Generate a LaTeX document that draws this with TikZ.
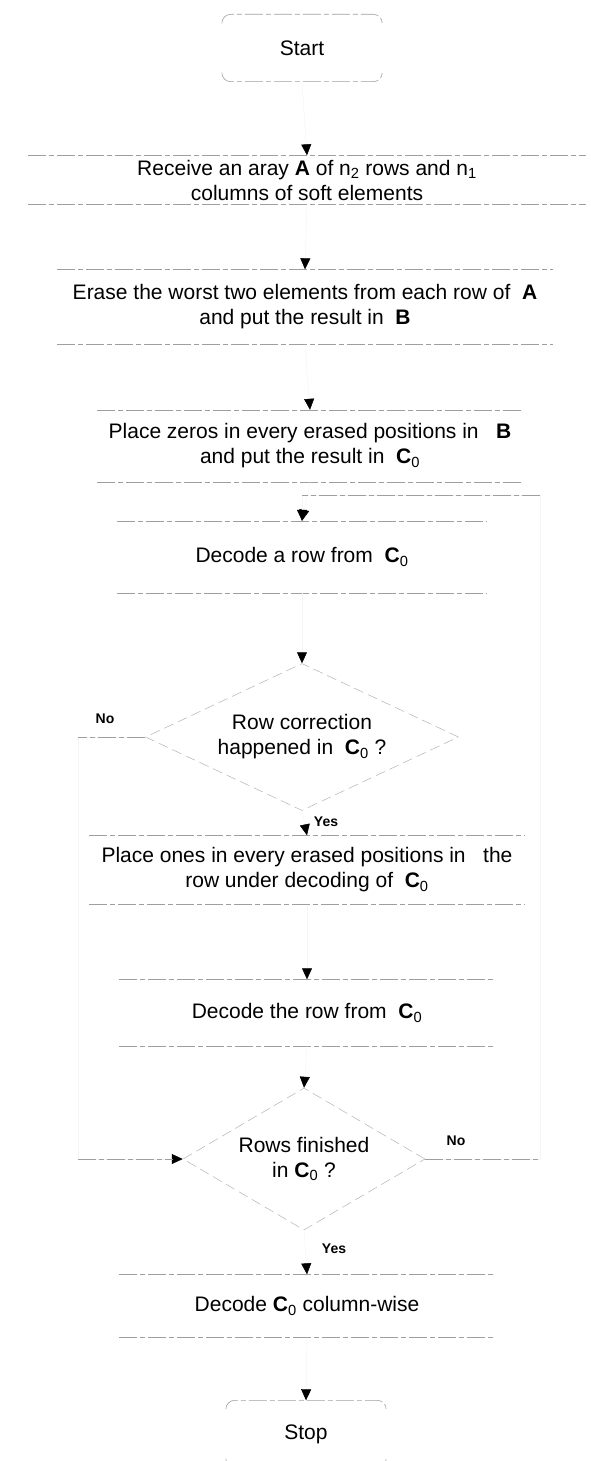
\documentclass[tikz,border=0pt]{standalone}
\usepackage{fontspec}
\setmainfont{Liberation Sans}
\usetikzlibrary{shapes.geometric,arrows.meta}

\newcommand{\Czero}{\textbf{C}\textsubscript{0}}

\begin{document}
\begin{tikzpicture}[x=1pt,y=-1pt,
  every node/.style={font=\fontsize{21}{25}\selectfont},
  edge/.style={gray!75, line width=0.6pt, dash pattern=on 18pt off 3pt on 5pt off 3pt},
  link/.style={gray!8, line width=0.5pt, -{Triangle[color=black,width=10pt,length=11pt]}},
  stepbox/.style={inner sep=0pt, align=center},
  term/.style={inner sep=0pt, minimum width=160, minimum height=67},
  decision/.style={diamond, draw=gray!60, line width=0.5pt, dash pattern=on 10pt off 5pt, inner sep=0pt, align=center},
  lbl/.style={font=\bfseries\fontsize{14}{16}\selectfont}]
  \useasboundingbox (0,0) rectangle (590,1461);

  % blocks
  \node[term] (start) at (302,48) {Start};
  \node[stepbox, minimum width=557, minimum height=49] (recv) at (307,180)
    {Receive an aray \textbf{A} of n\textsubscript{2} rows and n\textsubscript{1}\\columns of soft elements};
  \node[stepbox, minimum width=495, minimum height=75] (erase) at (305,307)
    {Erase the worst two elements from each row of ~\textbf{A}\\and put the result in ~\textbf{B}};
  \node[stepbox, minimum width=425, minimum height=72] (zeros) at (310,446)
    {Place zeros in every erased positions in ~~\textbf{B}\\and put the result in ~\Czero};
  \node[stepbox, minimum width=370, minimum height=72] (dec1) at (302,557)
    {Decode a row from ~\Czero};
  \node[decision, aspect=2.13, minimum width=313, minimum height=147] (corr) at (302,737)
    {Row correction\\happened in ~\Czero~?};
  \node[stepbox, minimum width=435, minimum height=69] (ones) at (307,870)
    {Place ones in every erased positions in ~~the\\row under decoding of ~\Czero};
  \node[stepbox, minimum width=375, minimum height=67] (dec2) at (307,1013)
    {Decode the row from ~\Czero};
  \node[decision, aspect=1.7, minimum width=242, minimum height=142] (done) at (304,1159)
    {Rows finished\\in \Czero~?};
  \node[stepbox, minimum width=375, minimum height=63] (col) at (307,1306)
    {Decode \Czero{} column-wise};
  \node[term] (stop) at (306,1434) {Stop};

  % box edges (top and bottom only)
  \foreach \b in {recv,erase,zeros,dec1,ones,dec2,col}{
    \draw[edge] (\b.north west) -- (\b.north east);
    \draw[edge] (\b.south west) -- (\b.south east);
  }
  \foreach \b in {start,stop}{
    \draw[edge, rounded corners=9pt] ([yshift=-8pt]\b.north west) |- (\b.north) -| ([yshift=-8pt]\b.north east);
    \draw[edge, rounded corners=9pt] ([yshift=8pt]\b.south west) |- (\b.south) -| ([yshift=8pt]\b.south east);
  }

  % labels
  \node[lbl] (no1) at (105,719) {No};
  \node[lbl] (yes1) at (326,822) {Yes};
  \node[lbl] (no2) at (456,1141) {No};
  \node[lbl] (yes2) at (334,1249) {Yes};

  % connectors
  \draw[link] (start.south) -- (recv.north);
  \draw[link] (recv.south) -- (erase.north);
  \draw[link] (erase.south) -- (zeros.north);
  \draw[link] (zeros.south) -- (dec1.north);
  \draw[link] (dec1.south) -- (corr.north);
  \draw[link] (corr.south) -- (ones.north);
  \draw[link] (ones.south) -- (dec2.north);
  \draw[link] (dec2.south) -- (done.north);
  \draw[link] (done.south) -- (col.north);
  \draw[link] (col.south) -- (stop.north);

  % loops
  \coordinate (lft) at (78,0);
  \coordinate (rgt) at (540,495);
  \draw[link] (corr.west) -- (corr.west -| lft) -- (done.west -| lft) -- (done.west);
  \draw[edge] (corr.west) -- (corr.west -| lft);
  \draw[edge] (done.west -| lft) -- ([xshift=-10pt]done.west);
  \draw[link] (done.east) -| (rgt) -| (dec1.north);
  \draw[edge] (done.east) -- (done.east -| rgt);
  \draw[edge] (rgt) -- (rgt -| dec1.north);
\end{tikzpicture}
\end{document}
